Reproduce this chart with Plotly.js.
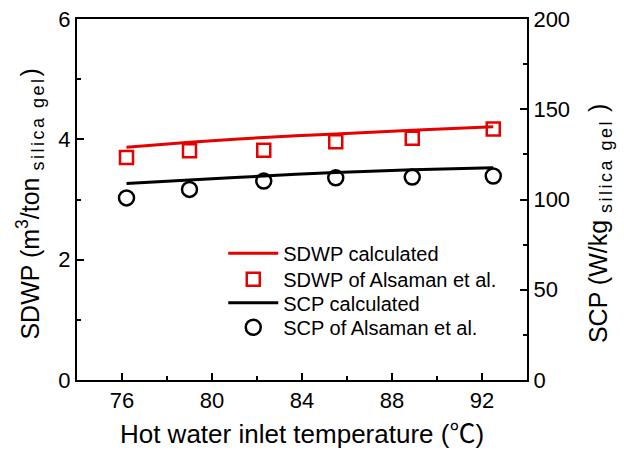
<!DOCTYPE html>
<html>
<head>
<meta charset="utf-8">
<script src="https://cdn.plot.ly/plotly-3.0.1.min.js"></script>
<style>
  html, body { margin: 0; padding: 0; background: #fff; }
  #chart { width: 624px; height: 456px; }
</style>
</head>
<body>
<div id="chart"></div>
<script>
// Hot water inlet temperature (°C)
const temps = [76.2, 79.0, 82.3, 85.5, 88.9, 92.5];
// Specific daily water production, m3 per ton of silica gel
const sdwpCalc = [3.87, 3.95, 4.03, 4.09, 4.15, 4.21];
const sdwpAlsaman = [3.70, 3.81, 3.82, 3.96, 4.02, 4.17];
// Specific cooling power, W per kg of silica gel
const scpCalc = [108.9, 110.8, 113.0, 115.0, 116.5, 117.6];
const scpAlsaman = [100.9, 105.6, 110.2, 112.0, 112.4, 113.0];

const xTicks = [76, 80, 84, 88, 92];
const yLeftTicks = [0, 2, 4, 6];
const yRightTicks = [0, 50, 100, 150, 200];

const FONT = 'Liberation Sans, Arial, sans-serif';
const SUB = '<sub><span style="font-size:18px;letter-spacing:2.5px">silica gel</span></sub>';

const traces = [
  {
    x: temps, y: sdwpCalc, type: 'scatter', mode: 'lines',
    name: 'SDWP calculated', yaxis: 'y', legend: 'legend',
    line: { color: '#e60000', width: 3, shape: 'spline' }
  },
  {
    x: temps, y: sdwpAlsaman, type: 'scatter', mode: 'markers',
    name: 'SDWP of Alsaman et al.', yaxis: 'y', legend: 'legend2',
    marker: { symbol: 'square-open', size: 13, color: '#e60000', line: { width: 2.5, color: '#e60000' } }
  },
  {
    x: temps, y: scpCalc, type: 'scatter', mode: 'lines',
    name: 'SCP calculated', yaxis: 'y2', legend: 'legend3',
    line: { color: '#000000', width: 3, shape: 'spline' }
  },
  {
    x: temps, y: scpAlsaman, type: 'scatter', mode: 'markers',
    name: 'SCP of Alsaman et al.', yaxis: 'y2', legend: 'legend4',
    marker: { symbol: 'circle-open', size: 15, color: '#000000', line: { width: 2.5, color: '#000000' } }
  }
];

// one legend box per entry so the rows sit at fixed heights
function legendAt(y) {
  return {
    x: 0.325, y: y, xanchor: 'left', yanchor: 'middle',
    bgcolor: 'rgba(0,0,0,0)', borderwidth: 0,
    font: { family: FONT, size: 20, color: '#000' },
    itemwidth: 50
  };
}

// vertical axis titles placed as rotated paper annotations
function sideTitle(text, x, y) {
  return {
    text: text, xref: 'paper', yref: 'paper', x: x, y: y,
    xanchor: 'center', yanchor: 'middle', textangle: -90, showarrow: false,
    font: { family: FONT, size: 25, color: '#000' }
  };
}

const tickStyle = {
  ticks: 'inside', ticklen: 7, tickwidth: 2, tickcolor: '#000',
  showline: true, linewidth: 2, linecolor: '#000',
  showgrid: false, zeroline: false,
  tickfont: { family: FONT, size: 22, color: '#000' }
};
const minorStyle = { ticks: 'inside', ticklen: 4, tickwidth: 2, tickcolor: '#000', showgrid: false };

const layout = {
  width: 624, height: 456,
  margin: { l: 77, r: 97, t: 19, b: 76, pad: 0 },
  paper_bgcolor: '#ffffff', plot_bgcolor: '#ffffff',
  font: { family: FONT, size: 20, color: '#000' },
  showlegend: true,
  legend: legendAt(0.351),
  legend2: legendAt(0.279),
  legend3: legendAt(0.214),
  legend4: legendAt(0.146),
  xaxis: Object.assign({}, tickStyle, {
    range: [74, 94], tickvals: xTicks, ticktext: xTicks.map(String), mirror: true,
    minor: Object.assign({ dtick: 2, tick0: 0 }, minorStyle),
    title: {
      text: 'Hot water inlet temperature (<span style="font-family:\'Noto Sans CJK SC\'">\u2103</span>)',
      font: { family: FONT, size: 26, color: '#000' }, standoff: 8
    }
  }),
  yaxis: Object.assign({}, tickStyle, {
    range: [0, 6], tickvals: yLeftTicks, ticktext: yLeftTicks.map(String),
    minor: Object.assign({ dtick: 1, tick0: 0 }, minorStyle)
  }),
  yaxis2: Object.assign({}, tickStyle, {
    overlaying: 'y', side: 'right',
    range: [0, 200], tickvals: yRightTicks, ticktext: yRightTicks.map(String),
    minor: Object.assign({ dtick: 25, tick0: 0 }, minorStyle)
  }),
  annotations: [
    sideTitle('SDWP (m<sup>3</sup>/ton ' + SUB + ')', -0.1044, 0.486),
    sideTitle('SCP (W/kg ' + SUB + ' )', 1.1622, 0.4347)
  ]
};

Plotly.newPlot('chart', traces, layout, { displayModeBar: false, staticPlot: true });
</script>
</body>
</html>
